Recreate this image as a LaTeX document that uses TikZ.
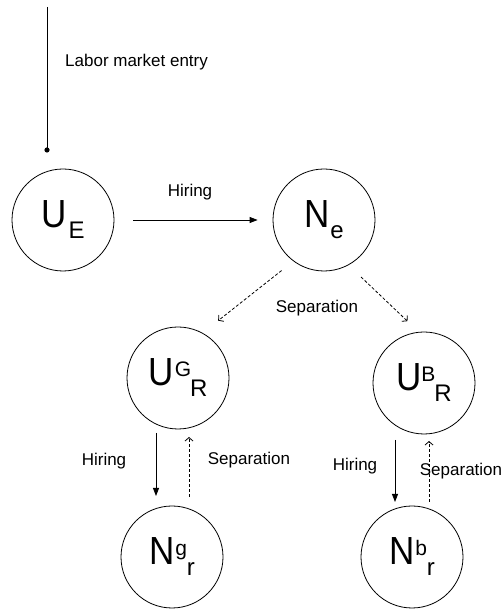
\documentclass[tikz,border=0pt]{standalone}
\usepackage{fontspec}
\setmainfont{Liberation Sans}
\usetikzlibrary{arrows.meta}
\newcommand\MainL[1]{\scalebox{1}[1.12]{\fontsize{35}{35}\selectfont #1}}
\newcommand\SubL[1]{\raisebox{-11pt}{\fontsize{24}{24}\selectfont #1}}
\newcommand\SupL[1]{\raisebox{9pt}{\fontsize{21}{21}\selectfont #1}}
\begin{document}
\begin{tikzpicture}[x=1pt,y=1pt,
  st/.style={circle,draw,line width=0.8pt,minimum size=102pt,inner sep=0pt},
  lbl/.style={font=\fontsize{17}{17}\selectfont,inner sep=0pt},
  flow/.style={line width=0.9pt,-{Triangle[length=8pt,width=6pt]}},
  sepflow/.style={line width=0.8pt,dash pattern=on 3pt off 2pt,-{Straight Barb[length=3.5pt,width=8pt]}}]
\useasboundingbox (0,0) rectangle (503,609);
% states
\node[st] (UE) at (63,389) {\MainL{U}\hspace{2pt}\SubL{E}};
\node[st] (Ne) at (324,389) {\MainL{N}\hspace{1pt}\SubL{e}};
\node[st] (UG) at (178,231) {\MainL{U}\hspace{1pt}\SupL{G}\hspace{-1pt}\SubL{R}};
\node[st] (UB) at (424,226) {\MainL{U}\hspace{0pt}\SupL{B}\hspace{-1pt}\SubL{R}};
\node[st] (Ng) at (172,52) {\MainL{N}\hspace{1pt}\SupL{g}\hspace{0pt}\SubL{r}};
\node[st] (Nb) at (412,52) {\MainL{N}\hspace{1pt}\SupL{b}\hspace{0pt}\SubL{r}};
% labor market entry
\coordinate (entrytop) at (47,602);
\coordinate (entrydot) at (47,459);
\draw[line width=0.8pt] (entrytop) -- (entrydot);
\fill (entrydot) circle (2.6pt);
\node[lbl,anchor=base west] (entrylbl) at (65,542) {Labor market entry};
% hiring into employment
\draw[flow] ([xshift=19pt]UE.east) -- ([xshift=-15pt]Ne.west);
\node[lbl,anchor=base] (hirelbl) at (190,412) {Hiring};
% separations
\draw[sepflow] ([shift={(230:66)}]Ne.center) -- ([shift={(55:70)}]UG.center);
\draw[sepflow] ([shift={(303:68)}]Ne.center) -- ([shift={(105:64)}]UB.center);
\node[lbl,anchor=base] (seplbl) at (317,296) {Separation};
% good branch
\draw[flow] ([shift={(-22,-55)}]UG.center) -- ([shift={(-16,61)}]Ng.center);
\draw[sepflow] ([shift={(17,60)}]Ng.center) -- ([shift={(11,-59)}]UG.center);
\node[lbl,anchor=base] (hireG) at (104,143) {Hiring};
\node[lbl,anchor=base] (sepG) at (249,144) {Separation};
% bad branch
\draw[flow] ([shift={(-29,-57)}]UB.center) -- ([shift={(-17,55)}]Nb.center);
\draw[sepflow] ([shift={(17,55)}]Nb.center) -- ([shift={(5,-58)}]UB.center);
\node[lbl,anchor=base] (hireB) at (355,138) {Hiring};
\node[lbl,anchor=base] (sepB) at (461,133) {Separation};
\end{tikzpicture}
\end{document}
